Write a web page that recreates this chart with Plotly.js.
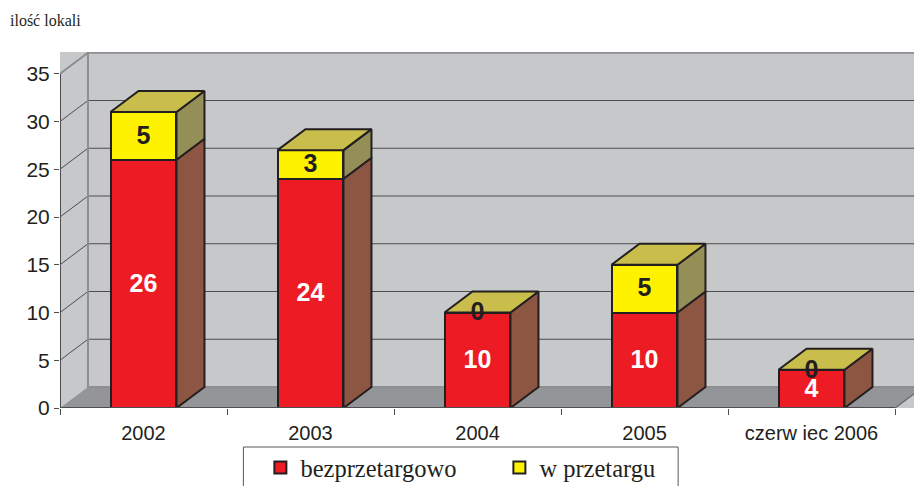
<!DOCTYPE html>
<html>
<head>
<meta charset="utf-8">
<script src="https://cdn.plot.ly/plotly-3.0.1.min.js"></script>
<style>html,body{margin:0;padding:0;background:#fff;overflow:hidden}#c{width:914px;height:486px}</style>
</head>
<body>
<div id="c"></div>
<script>
const categories = ["2002", "2003", "2004", "2005", "czerw iec 2006"];
const bezprzetargowo = [26, 24, 10, 10, 4];
const wPrzetargu = [5, 3, 0, 5, 0];
const yTicks = [0, 5, 10, 15, 20, 25, 30, 35];
const seriesNames = ["bezprzetargowo", "w przetargu"];
const yTitleText = "ilość lokali";

const INK = "#231f20", RED = "#ed1c24", YEL = "#fff200";
const RED_SIDE = "#8d5643", YEL_SIDE = "#948f57", TOP = "#c9bd4c";
const WALL = "#c7c8ca", FLOOR = "#939598", EDGE = "#8e8f92", GRID = "#4d4d4f";
const W = 914, H = 486;
const L = 59.5, T = 52, B = 408;
const xmin = -0.5, catPx = 167.1, xmax = xmin + (W - L) / catPx;
const pxPerUnit = 9.55, ymax = (B - T) / pxPerUnit;
const dx = 28 / catPx, dy = 21 / pxPerUnit, barW = 0.395;
const labelDrop = 1.5 / pxPerUnit;
const xs = categories.map((_, i) => i);
const tickEdges = categories.map((_, i) => i - 0.5).concat([categories.length - 0.5]);
const xEnd = categories.length - 0.5;

function poly(store, pts) {
  pts.forEach(p => { store.x.push(p[0]); store.y.push(p[1]); });
  store.x.push(pts[0][0], null); store.y.push(pts[0][1], null);
}
const sideR = {x: [], y: []}, sideY = {x: [], y: []}, tops = {x: [], y: []};
xs.forEach((x, i) => {
  const a = bezprzetargowo[i], b = wPrzetargu[i], r = x + barW / 2, l = x - barW / 2;
  poly(sideR, [[r, 0], [r + dx, dy], [r + dx, a + dy], [r, a]]);
  if (b > 0) poly(sideY, [[r, a], [r + dx, a + dy], [r + dx, a + b + dy], [r, a + b]]);
  const t = a + b;
  poly(tops, [[l, t], [l + dx, t + dy], [r + dx, t + dy], [r, t]]);
});
function faceTrace(s, fill) {
  return {x: s.x, y: s.y, type: "scatter", mode: "lines", fill: "toself", fillcolor: fill,
    line: {color: INK, width: 2}, showlegend: false, hoverinfo: "skip", cliponaxis: false};
}
const axisLines = {x: [xmin, xEnd, null, xmin, xmin], y: [0, 0, null, 0, 35], type: "scatter", mode: "lines",
  line: {color: "#4d4d4f", width: 2}, showlegend: false, hoverinfo: "skip", cliponaxis: false};

const traces = [
  {type: "bar", name: seriesNames[0], x: xs, y: bezprzetargowo, width: barW,
    marker: {color: RED, line: {color: INK, width: 2}}, cliponaxis: false, hoverinfo: "skip"},
  {type: "bar", name: seriesNames[1], x: xs, y: wPrzetargu, width: barW,
    marker: {color: YEL, line: {color: INK, width: 2}}, cliponaxis: false, hoverinfo: "skip"},
  faceTrace(sideR, RED_SIDE), faceTrace(sideY, YEL_SIDE), faceTrace(tops, TOP),
  axisLines,
  {type: "scatter", mode: "text", x: xs, y: bezprzetargowo.map(v => v / 2 - labelDrop), text: bezprzetargowo.map(String),
    textfont: {family: "Liberation Sans", size: 25, color: "#ffffff", weight: 700},
    showlegend: false, hoverinfo: "skip", cliponaxis: false},
  {type: "scatter", mode: "text", x: xs, y: bezprzetargowo.map((v, i) => v + wPrzetargu[i] / 2 - labelDrop), text: wPrzetargu.map(String),
    textfont: {family: "Liberation Sans", size: 25, color: INK, weight: 700},
    showlegend: false, hoverinfo: "skip", cliponaxis: false}
];

const shapes = [];
function pathOf(pts) { return "M" + pts.map(p => p[0] + "," + p[1]).join("L"); }
// left wall
shapes.push({type: "path", layer: "below", xref: "x", yref: "y", fillcolor: WALL, line: {width: 0},
  path: pathOf([[xmin, 0], [xmin + dx, dy], [xmin + dx, 35 + dy], [xmin, 35]]) + "Z"});
// floor
shapes.push({type: "path", layer: "below", xref: "x", yref: "y", fillcolor: FLOOR, line: {width: 0},
  path: pathOf([[xmin, 0], [xmin + dx, dy], [xmax, dy], [xmax, (xmax - xEnd) / dx * dy], [xEnd, 0]]) + "Z"});
// gridlines
yTicks.slice(1, -1).forEach(v => {
  shapes.push({type: "path", layer: "below", xref: "x", yref: "y", line: {color: GRID, width: 1},
    path: pathOf([[xmin, v], [xmin + dx, v + dy], [xmax, v + dy]])});
});
// back wall edges
shapes.push({type: "path", layer: "below", xref: "x", yref: "y", line: {color: EDGE, width: 2},
  path: pathOf([[xmin, 35], [xmin + dx, 35 + dy], [xmax, 35 + dy]])});
shapes.push({type: "path", layer: "below", xref: "x", yref: "y", line: {color: EDGE, width: 2},
  path: pathOf([[xmin + dx, 35 + dy], [xmin + dx, dy], [xmax, dy]])});
shapes.push({type: "path", layer: "below", xref: "x", yref: "y", line: {color: "#6d6e71", width: 1.5},
  path: pathOf([[xEnd, 0], [xmax, (xmax - xEnd) / dx * dy]])});
// legend frame
shapes.push({type: "rect", xref: "paper", yref: "paper", layer: "above",
  x0: (243 - L) / (W - L), x1: (678 - L) / (W - L), y0: -(500 - B) / (B - T), y1: -(447 - B) / (B - T),
  line: {color: "#58595b", width: 1}, fillcolor: "rgba(0,0,0,0)"});

const layout = {
  width: W, height: H, autosize: false, barmode: "stack",
  margin: {l: L, r: 0, t: T, b: H - B, pad: 0, autoexpand: false},
  paper_bgcolor: "#ffffff", plot_bgcolor: WALL,
  font: {family: "Liberation Sans", color: INK},
  title: {text: yTitleText, x: 10 / W, xanchor: "left", y: 1 - 20 / H, yanchor: "middle",
    font: {family: "Liberation Serif", size: 16, color: INK}},
  xaxis: {range: [xmin, xmax], tickmode: "array", tickvals: xs, ticktext: categories, ticks: "", ticklabelstandoff: 11,
    tickfont: {size: 20, color: INK}, showgrid: false, zeroline: false, showline: false,
    minor: {tickmode: "array", tickvals: tickEdges, ticks: "outside", ticklen: 6, tickwidth: 1, tickcolor: "#4d4d4f", showgrid: false}},
  yaxis: {range: [0, ymax], tickmode: "array", tickvals: yTicks, ticks: "outside", ticklen: 5, tickwidth: 1, tickcolor: "#4d4d4f",
    tickfont: {size: 21, color: INK}, showgrid: false, zeroline: false, showline: false},
  legend: {orientation: "h", x: (260 - L) / (W - L), xanchor: "left", y: -(445 - B) / (B - T), yanchor: "top",
    font: {family: "Liberation Serif", size: 24.5, color: INK}, bgcolor: "rgba(0,0,0,0)", borderwidth: 0,
    entrywidth: 194, entrywidthmode: "pixels", traceorder: "normal"},
  shapes: shapes
};
Plotly.newPlot("c", traces, layout, {displayModeBar: false, staticPlot: true});
</script>
</body>
</html>
